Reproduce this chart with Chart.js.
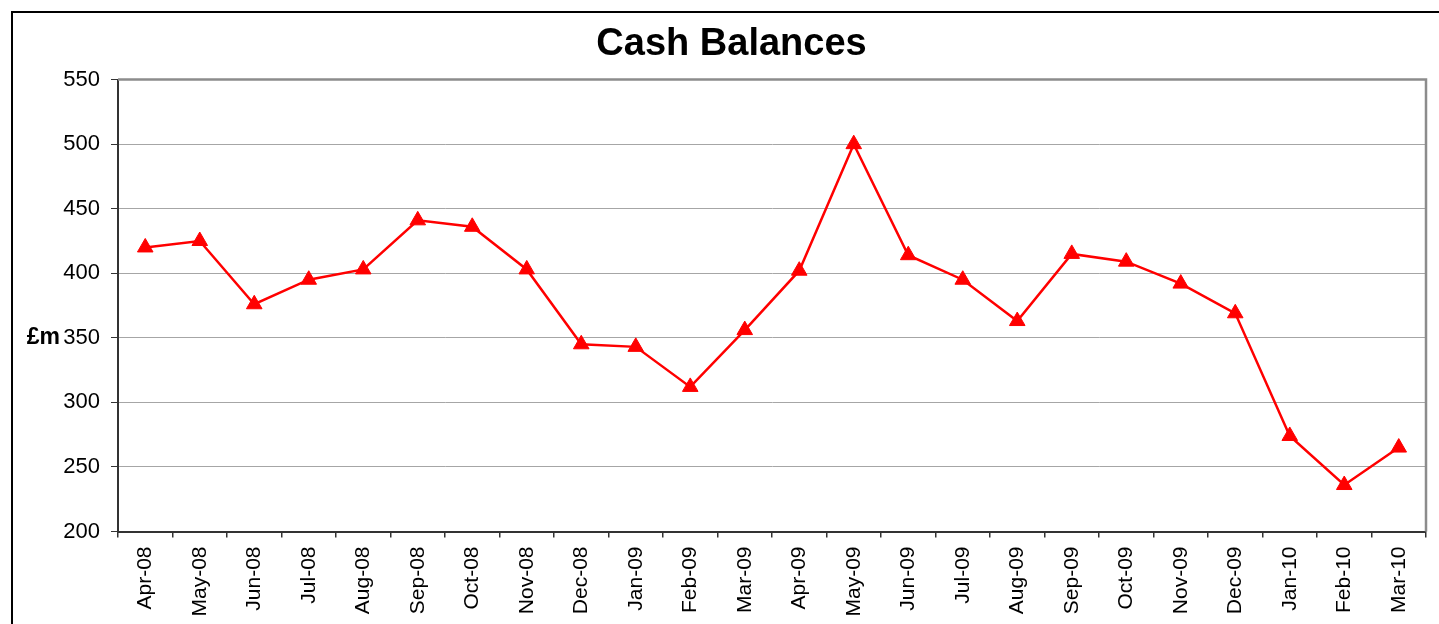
<!DOCTYPE html>
<html>
<head>
<meta charset="utf-8">
<title>Cash Balances</title>
<script src="https://cdn.jsdelivr.net/npm/chart.js@4/dist/chart.umd.min.js"></script>
<style>
  html, body { margin: 0; padding: 0; background: #fff; overflow: hidden; }
  #wrap { width: 1439px; height: 624px; }
</style>
</head>
<body>
<div id="wrap"><canvas id="cashChart" width="1439" height="624"></canvas></div>
<script>
// Monthly cash balances, £m
const months = [
  "Apr-08", "May-08", "Jun-08", "Jul-08", "Aug-08", "Sep-08", "Oct-08", "Nov-08",
  "Dec-08", "Jan-09", "Feb-09", "Mar-09", "Apr-09", "May-09", "Jun-09", "Jul-09",
  "Aug-09", "Sep-09", "Oct-09", "Nov-09", "Dec-09", "Jan-10", "Feb-10", "Mar-10"
];
const balances = [
  420, 425, 376, 395, 403, 441, 436, 403,
  345, 343, 312, 356, 402, 500, 414, 395,
  363, 415, 409, 392, 369, 274, 236, 265
];
const yTicks = [200, 250, 300, 350, 400, 450, 500, 550];

// outer frame and the plot box edges (top / right)
const framePlugin = {
  id: "frame",
  beforeDatasetsDraw(chart) {
    const { ctx, chartArea } = chart;
    ctx.save();
    ctx.strokeStyle = "#8c8c8c";
    ctx.lineWidth = 2.5;
    ctx.beginPath();
    ctx.moveTo(chartArea.left, chartArea.top);
    ctx.lineTo(chartArea.right, chartArea.top);
    ctx.lineTo(chartArea.right, chartArea.bottom);
    ctx.stroke();
    ctx.restore();
  },
  afterDraw(chart) {
    const { ctx } = chart;
    const y = chart.scales.y;
    ctx.save();
    ctx.strokeStyle = "#000";
    ctx.lineWidth = 2;
    ctx.strokeRect(12, 12, 1460, 640);
    // unit label beside the axis
    ctx.fillStyle = "#000";
    ctx.font = "bold 23px Arial, 'Liberation Sans', sans-serif";
    ctx.textAlign = "right";
    ctx.textBaseline = "middle";
    ctx.fillText("£m", 60, y.getPixelForValue(350));
    ctx.restore();
  }
};

const ctx = document.getElementById("cashChart").getContext("2d");

const cashChart = new Chart(ctx, {
  type: "line",
  data: {
    labels: months,
    datasets: [
      {
        label: "Cash Balances",
        data: balances,
        borderColor: "#ff0000",
        backgroundColor: "#ff0000",
        borderWidth: 2.5,
        tension: 0,
        fill: false,
        pointStyle: "triangle",
        pointRadius: 9,
        pointBorderWidth: 1,
        pointBackgroundColor: "#ff0000",
        pointBorderColor: "#ff0000",
      },
    ],
  },
  options: {
    responsive: false,
    animation: false,
    layout: { padding: { left: 37, right: 13, top: 0, bottom: 0 } },
    scales: {
      x: {
        offset: true,
        grid: {
          offset: true,
          drawOnChartArea: false,
          drawTicks: true,
          tickLength: 6,
          tickColor: "#333",
          lineWidth: 1.5,
        },
        border: { color: "#333", width: 2 },
        ticks: {
          color: "#000",
          font: { family: "Arial, 'Liberation Sans', sans-serif", size: 21 },
          minRotation: 90,
          maxRotation: 90,
          autoSkip: false,
          padding: 9,
        },
        afterFit(scale) {
          scale.height = 92.5;
        },
      },
      y: {
        min: 200,
        max: 550,
        afterBuildTicks(scale) {
          scale.ticks = yTicks.map((v) => ({ value: v }));
        },
        grid: {
          color: "#a6a6a6",
          lineWidth: 1,
          tickColor: "#333",
          tickLength: 7,
        },
        border: { color: "#333", width: 2 },
        ticks: {
          color: "#000",
          font: { family: "Arial, 'Liberation Sans', sans-serif", size: 22 },
          padding: 11,
        },
        afterFit(scale) {
          scale.width = 81;
        },
      },
    },
    plugins: {
      legend: { display: false },
      tooltip: { enabled: false },
      title: {
        display: true,
        text: "Cash Balances",
        color: "#000",
        font: { family: "Arial, 'Liberation Sans', sans-serif", size: 38, weight: "bold", lineHeight: 1.2 },
        padding: { top: 22, bottom: 12 },
      },
    },
  },
  plugins: [framePlugin],
});
</script>
</body>
</html>
